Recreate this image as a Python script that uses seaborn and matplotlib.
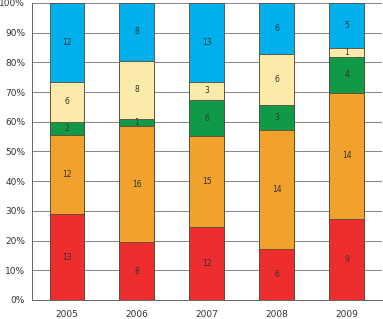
import matplotlib
matplotlib.use("Agg")
import matplotlib.pyplot as plt
import numpy as np
import pandas as pd
import seaborn as sns

years = ["2005", "2006", "2007", "2008", "2009"]
segments = ["red", "orange", "green", "yellow", "blue"]
red = [13, 8, 12, 6, 9]
orange = [12, 16, 15, 14, 14]
green = [2, 1, 6, 3, 4]
yellow = [6, 8, 3, 6, 1]
blue = [12, 8, 13, 6, 5]
colors = ["#ee2d2f", "#f1a22d", "#109a48", "#fbeaa9", "#00b0ed"]

counts = np.array([red, orange, green, yellow, blue], dtype=float)
share = counts / counts.sum(axis=0) * 100
tops = share.cumsum(axis=0)
bottoms = tops - share

rows = []
for i, seg in enumerate(segments):
    for j, yr in enumerate(years):
        rows.append({"year": yr, "segment": seg, "value": int(counts[i, j]),
                     "top": tops[i, j], "mid": bottoms[i, j] + share[i, j] / 2})
df = pd.DataFrame(rows)

sns.set_style("white")
fig = plt.figure(figsize=(3.83, 3.19), dpi=100)
ax = fig.add_axes([0.0836, 0.0596, 0.9134, 0.931])

# draw from the top segment down so lower stacks overlay upper ones
for seg, col in reversed(list(zip(segments, colors))):
    sub = df[df["segment"] == seg]
    sns.barplot(data=sub, x="year", y="top", color=col, saturation=1, width=0.5,
                edgecolor="#5a4a3a", linewidth=0.6, ax=ax, zorder=2)

for _, r in df.iterrows():
    j = years.index(r["year"])
    ax.text(j, r["mid"], str(r["value"]), ha="center", va="center",
            fontsize=5.5, color="#333333", zorder=3)

ax.set_xlim(-0.5, 4.5)
ax.set_ylim(0, 100)
ax.set_yticks(np.arange(0, 101, 10))
ax.set_yticklabels([f"{v}%" for v in range(0, 101, 10)])
ax.yaxis.grid(True, color="#707070", linewidth=0.6, zorder=0)
ax.set_axisbelow(True)
ax.set_xlabel("")
ax.set_ylabel("")
ax.set_xticks(np.arange(-0.5, 5, 1), minor=True)
ax.tick_params(axis="x", which="major", length=0, pad=7, labelsize=6.5, labelcolor="#333333")
ax.tick_params(axis="x", which="minor", length=3, color="#666666", direction="out")
ax.tick_params(axis="y", length=3, color="#666666", labelsize=6.5, labelcolor="#333333", pad=2)
for side in ["top", "right"]:
    ax.spines[side].set_visible(False)
for side in ["left", "bottom"]:
    ax.spines[side].set_color("#666666")
    ax.spines[side].set_linewidth(0.7)

fig.savefig("out.png", dpi=100)
